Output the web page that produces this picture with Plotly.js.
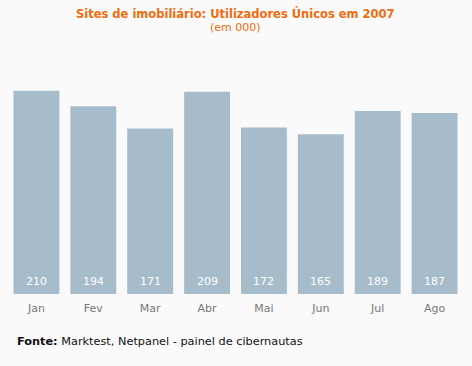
<!DOCTYPE html>
<html><head><meta charset="utf-8">
<script src="https://cdn.plot.ly/plotly-3.0.1.min.js"></script>
<style>html,body{margin:0;padding:0;background:#fafafa;}#c{width:472px;height:366px;}</style>
</head><body><div id="c"></div>
<script>
const months = ["Jan","Fev","Mar","Abr","Mai","Jun","Jul","Ago"];
const users = [210,194,171,209,172,165,189,187];
const titleText = "Sites de imobiliário: Utilizadores Únicos em 2007";
const subtitleText = "(em 000)";
const sourceText = "<b>Fonte:</b> Marktest, Netpanel - painel de cibernautas";

const font = "DejaVu Sans, Verdana, sans-serif";
const annotations = months.map((m,i)=>({
  x: m, y: 0, yref:'y', xref:'x', text: String(users[i]), showarrow:false,
  yanchor:'middle', yshift: 13, font:{family:font,size:11,color:'#ffffff'}
}));
annotations.push({xref:'paper',yref:'paper',x:0.5,y:1,yanchor:'middle',xanchor:'center',
  text:'<b>'+titleText+'</b>', showarrow:false, yshift:39,
  font:{family:font,size:11.5,color:'#f26b0f'}});
annotations.push({xref:'paper',yref:'paper',x:0.5,y:1,yanchor:'middle',xanchor:'center',
  text:subtitleText, showarrow:false, yshift:25,
  font:{family:font,size:11,color:'#f26b0f'}});
annotations.push({
  xref:'paper',yref:'paper',x:0.0164,y:0,yshift:-47,xanchor:'left',yanchor:'middle',
  text:sourceText,showarrow:false,font:{family:font,size:11.3,color:'#111111'}
});
Plotly.newPlot('c',[{
  type:'bar', x: months, y: users, marker:{color:'#a6bccb'}, hoverinfo:'none'
}],{
  width:472,height:366,
  paper_bgcolor:'#fafafa',plot_bgcolor:'#fafafa',
  margin:{l:7.5,r:8.5,t:52,b:72},
  bargap:0.193,
  showlegend:false,
  xaxis:{showgrid:false,zeroline:false,showline:false,ticks:'',ticklabelstandoff:6,
    tickfont:{family:font,size:11,color:'#777777'},fixedrange:true},
  yaxis:{range:[0,250],visible:false,fixedrange:true},
  annotations: annotations
},{displayModeBar:false,staticPlot:true});
</script></body></html>
